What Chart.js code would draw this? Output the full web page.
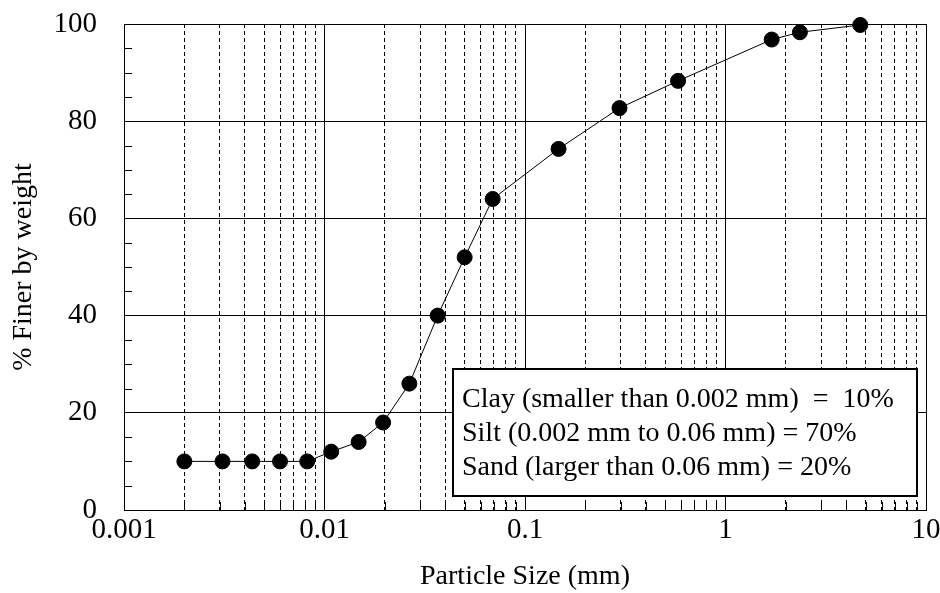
<!DOCTYPE html>
<html>
<head>
<meta charset="utf-8">
<script src="https://cdn.jsdelivr.net/npm/chart.js@4/dist/chart.umd.min.js"></script>
<style>
  body { margin: 0; background: #fff; }
  canvas { display: block; }
</style>
</head>
<body>
<canvas id="grading" width="940" height="593"></canvas>
<script>
// particle sizes (mm) and % finer
const sizes = [0.002, 0.0031, 0.00436, 0.006, 0.0082, 0.0108, 0.0148, 0.0196, 0.0265, 0.0367, 0.05, 0.069, 0.147, 0.296, 0.58, 1.70, 2.35, 4.70];
const finer = [10, 10, 10, 10, 10, 12, 14, 18, 26, 40, 52, 64, 74.3, 82.7, 88.3, 96.8, 98.3, 99.8];

// axis ticks
const decades = [0.001, 0.01, 0.1, 1, 10];
const minorSteps = [2, 3, 4, 5, 6, 7, 8, 9];
const yMinor = [5, 10, 15, 25, 30, 35, 45, 50, 55, 65, 70, 75, 85, 90, 95];

// text box
const summary = [
    "Clay (smaller than 0.002 mm)  =  10%",
    "Silt (0.002 mm to 0.06 mm) = 70%",
    "Sand (larger than 0.06 mm) = 20%"
];

const serif = "'Liberation Serif', 'Times New Roman', serif";

// minor values between the decades, for the dashed lines
const minorTicks = [];
decades.slice(0, -1).forEach(d => minorSteps.forEach(k => minorTicks.push(d * k)));

// small inside tick marks + the summary box
const extras = {
    id: "extras",
    afterDraw(chart) {
        const ctx = chart.ctx;
        const area = chart.chartArea;
        const y = chart.scales.y;
        const x = chart.scales.x;
        ctx.save();
        ctx.strokeStyle = "#000";
        ctx.lineWidth = 1;
        ctx.beginPath();
        yMinor.forEach(v => {
            const py = Math.round(y.getPixelForValue(v)) + 0.5;
            ctx.moveTo(area.left, py);
            ctx.lineTo(area.left + 8, py);
        });
        minorTicks.forEach(v => {
            const px = Math.round(x.getPixelForValue(v)) + 0.5;
            ctx.moveTo(px, area.bottom);
            ctx.lineTo(px, area.bottom - 8);
        });
        ctx.stroke();

        // box
        const w = 464, h = 127;
        const bx = area.right - 9 - w;
        const by = area.bottom - 14 - h;
        ctx.fillStyle = "#fff";
        ctx.fillRect(bx, by, w, h);
        ctx.lineWidth = 2;
        ctx.strokeRect(bx, by, w, h);
        ctx.fillStyle = "#000";
        ctx.font = "28px " + serif;
        ctx.textBaseline = "alphabetic";
        ctx.textAlign = "left";
        summary.forEach((t, i) => ctx.fillText(t, bx + 9, by + 38 + i * 34));
        ctx.restore();
    }
};

const canvas = document.getElementById("grading");
const chart = new Chart(canvas, {
    type: "scatter",
    data: {
        datasets: [{
            data: sizes.map((s, i) => ({ x: s, y: finer[i] })),
            showLine: true,
            borderColor: "#000",
            borderWidth: 1,
            pointRadius: 7.5,
            pointHoverRadius: 7.5,
            pointBackgroundColor: "#000",
            pointBorderColor: "#000",
            clip: false
        }]
    },
    options: {
        responsive: false,
        animation: false,
        layout: { padding: { top: 24, right: 14, bottom: 0, left: 0 } },
        plugins: {
            legend: { display: false },
            tooltip: { enabled: false }
        },
        scales: {
            x: {
                type: "logarithmic",
                position: "bottom",
                min: 0.001,
                max: 10,
                afterBuildTicks: s => { s.ticks = decades.map(v => ({ value: v })); },
                afterFit: s => { s.height = 83; s.paddingLeft = 0; s.paddingRight = 0; },
                ticks: {
                    color: "#000",
                    font: { family: serif, size: 29 },
                    padding: 3,
                    maxRotation: 0,
                    autoSkip: false,
                    callback: v => String(v)
                },
                grid: { color: "#000", lineWidth: 1, drawTicks: false },
                border: { display: true, color: "#000", width: 1 },
                title: {
                    display: true,
                    text: "Particle Size (mm)",
                    color: "#000",
                    font: { family: serif, size: 28 },
                    padding: { top: 0, bottom: 0 }
                }
            },
            x2: {
                type: "logarithmic",
                position: "bottom",
                min: 0.001,
                max: 10,
                afterBuildTicks: s => { s.ticks = minorTicks.map(v => ({ value: v })); },
                afterFit: s => { s.height = 0; s.paddingLeft = 0; s.paddingRight = 0; },
                ticks: { display: false },
                grid: { color: "#000", lineWidth: 1, drawTicks: false },
                border: { display: false, dash: [4, 3] }
            },
            y: {
                type: "linear",
                min: 0,
                max: 100,
                afterFit: s => { s.width = 124; s.paddingTop = 0; s.paddingBottom = 0; },
                ticks: {
                    stepSize: 20,
                    color: "#000",
                    font: { family: serif, size: 29 },
                    padding: 27
                },
                grid: { color: "#000", lineWidth: 1, drawTicks: false },
                border: { display: true, color: "#000", width: 1 },
                title: {
                    display: true,
                    text: "% Finer by weight",
                    color: "#000",
                    font: { family: serif, size: 28 },
                    padding: { top: 7, bottom: 0 }
                }
            }
        }
    },
    plugins: [extras]
});
</script>
</body>
</html>
